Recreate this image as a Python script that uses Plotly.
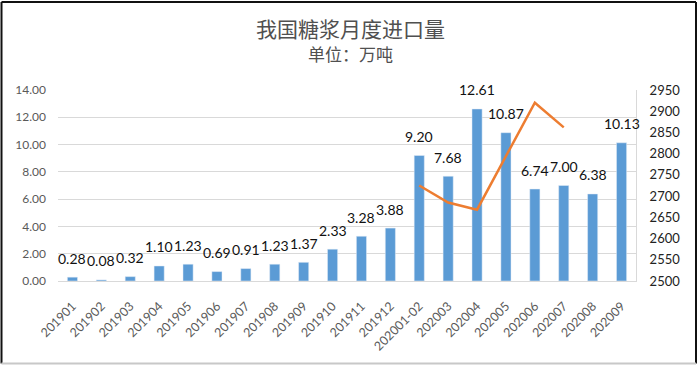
import plotly.graph_objects as go

categories = ["201901", "201902", "201903", "201904", "201905", "201906", "201907",
              "201908", "201909", "201910", "201911", "201912", "202001-02", "202003",
              "202004", "202005", "202006", "202007", "202008", "202009"]
imports = [0.28, 0.08, 0.32, 1.10, 1.23, 0.69, 0.91, 1.23, 1.37, 2.33, 3.28, 3.88,
           9.20, 7.68, 12.61, 10.87, 6.74, 7.00, 6.38, 10.13]
line_categories = ["202001-02", "202003", "202004", "202005", "202006", "202007"]
line_values = [2725, 2685, 2668, 2795, 2920, 2862]

title_text = "我国糖浆月度进口量"
subtitle_text = "单位：万吨"

L, R, T, B = 58, 64, 90, 86
W, H = 700, 367
pw, ph = W - L - R, H - T - B

fig = go.Figure()
fig.add_trace(go.Bar(x=categories, y=imports, marker_color="#5B9BD5", width=0.35,
                     hoverinfo="x+y", showlegend=False))
fig.add_trace(go.Scatter(x=line_categories, y=line_values, yaxis="y2", mode="lines",
                         line=dict(color="#ED7D31", width=2.5), showlegend=False))

for i, v in enumerate(imports):
    fig.add_annotation(x=i, y=v, text=f"{v:.2f}", showarrow=False, yanchor="middle",
                       yshift=19, font=dict(family="Lato", size=14, color="#111111"))

def px_to_paper_y(py):
    return (H - B - py) / ph

def px_to_paper_x(px):
    return (px - L) / pw

fig.add_annotation(x=px_to_paper_x(350), xref="paper", y=px_to_paper_y(28), yref="paper",
                   text=title_text, showarrow=False, yanchor="middle", xanchor="center",
                   font=dict(family="Noto Sans CJK SC", size=21, color="#505050"))
fig.add_annotation(x=px_to_paper_x(350), xref="paper", y=px_to_paper_y(53), yref="paper",
                   text=subtitle_text, showarrow=False, yanchor="middle", xanchor="center",
                   font=dict(family="Noto Sans CJK SC", size=17, color="#505050"))

xl, xr, yt, yb = px_to_paper_x(1.5), px_to_paper_x(696), px_to_paper_y(2), px_to_paper_y(363.5)
for (x0, y0, x1, y1, col) in [(xl, yt, xr, yt, "#111111"), (xl, yt, xl, yb, "#111111"),
                              (xr, yt, xr, yb, "#111111"), (xl, yb, xr, yb, "#C8C8C8")]:
    fig.add_shape(type="line", xref="paper", yref="paper", x0=x0, y0=y0, x1=x1, y1=y1,
                  line=dict(color=col, width=2), layer="above")

fig.update_layout(
    width=W, height=H,
    margin=dict(l=L, r=R, t=T, b=B),
    paper_bgcolor="white", plot_bgcolor="white",
    bargap=0.65,
    xaxis=dict(type="category", tickangle=-45, tickfont=dict(family="Lato", size=12.5, color="#595959"),
               showgrid=False, showline=True, linecolor="#D9D9D9", ticks="", range=[-0.5, 19.5],
               ticklabelstandoff=12),
    yaxis=dict(range=[0, 14], dtick=2, tickformat=".2f", showgrid=True, gridcolor="#D9D9D9",
               zeroline=False, showline=False, ticks="", ticklen=0, ticklabelstandoff=11,
               tickfont=dict(family="Lato", size=12, color="#595959")),
    yaxis2=dict(range=[2500, 2950], dtick=50, overlaying="y", side="right", showgrid=False,
                zeroline=False, showline=True, linecolor="#D9D9D9", ticks="", ticklabelstandoff=10,
                tickfont=dict(family="Lato", size=13, color="#222222")),
)

fig.write_html("out.html", config={"displayModeBar": False},
               post_script="document.body.style.margin='0';")
